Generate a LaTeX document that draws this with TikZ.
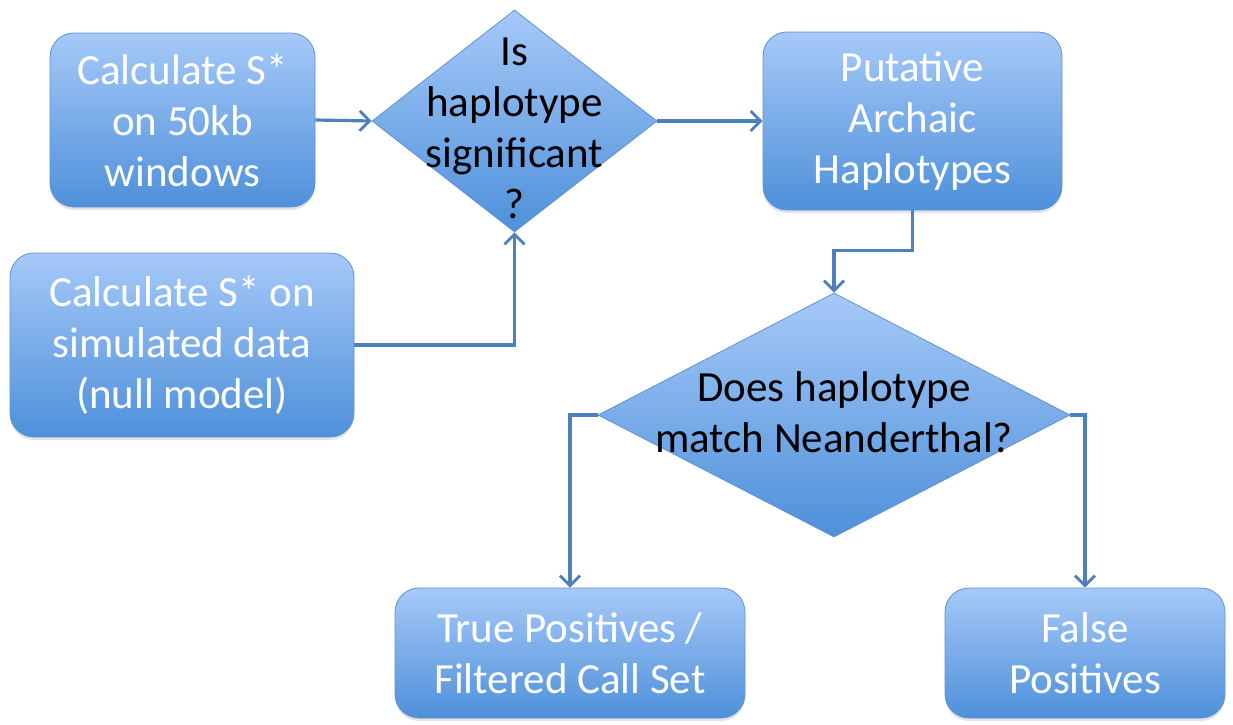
\documentclass[tikz,border=0pt]{standalone}
\usepackage{fontspec}
\setmainfont{Carlito}
\usetikzlibrary{arrows.meta,shapes.geometric,shadows}
\definecolor{filltop}{RGB}{166,201,248}
\definecolor{fillbot}{RGB}{78,144,218}
\definecolor{edgeblue}{RGB}{96,146,206}
\definecolor{linkblue}{RGB}{76,128,190}
\begin{document}
\begin{tikzpicture}[x=1pt,y=-1pt,
  txt/.style={font=\fontsize{43}{51}\selectfont, align=center},
  stepbox/.style={rectangle, rounded corners=24pt, draw=edgeblue, line width=0.8pt,
    top color=filltop, bottom color=fillbot, text=white, txt, inner sep=0pt,
    drop shadow={opacity=0.22, shadow xshift=0pt, shadow yshift=-3pt}},
  decision/.style={diamond, draw=edgeblue, line width=0.8pt, inner sep=0pt,
    top color=filltop, bottom color=fillbot},
  qtext/.style={txt, text=black, inner sep=0pt},
  link/.style={draw=linkblue, line width=3.2pt,
    -{Straight Barb[length=10pt,width=20pt,line width=2.8pt]}}
]
\useasboundingbox (0,0) rectangle (1233,724);

% process boxes
\node[stepbox, minimum width=265pt, minimum height=174pt] (calc) at (182.5,120)
  {Calculate S*\\on 50kb\\windows};
\node[stepbox, minimum width=344pt, minimum height=184pt] (sim) at (182,345)
  {Calculate S* on\\simulated data\\(null model)};
\node[stepbox, minimum width=299pt, minimum height=178pt] (put) at (912.5,121)
  {Putative\\Archaic\\Haplotypes};
\node[stepbox, minimum width=350pt, minimum height=130pt] (tp) at (570,653)
  {True Positives /\\Filtered Call Set};
\node[stepbox, minimum width=280pt, minimum height=130pt] (fp) at (1085,653)
  {False\\Positives};

% decisions
\node[decision, minimum width=285pt, minimum height=222pt] (sig) at (514.5,121) {};
\node[qtext] (sigt) at (514.5,128) {Is\\haplotype\\significant\\?};
\node[decision, minimum width=472pt, minimum height=244pt] (nea) at (834,415) {};
\node[qtext] (neat) at (834,412) {Does haplotype\\match Neanderthal?};

% connectors
\draw[link] (calc.east) -- (sig.west);
\draw[link] (sig.east) -- (put.west);
\draw[link] (sim.east) -| (sig.south);
\draw[link] (put.south) -- ++(0,40) -| (nea.north);
\draw[link] (nea.west) -| (tp.north);
\draw[link] (nea.east) -| (fp.north);
\end{tikzpicture}
\end{document}
